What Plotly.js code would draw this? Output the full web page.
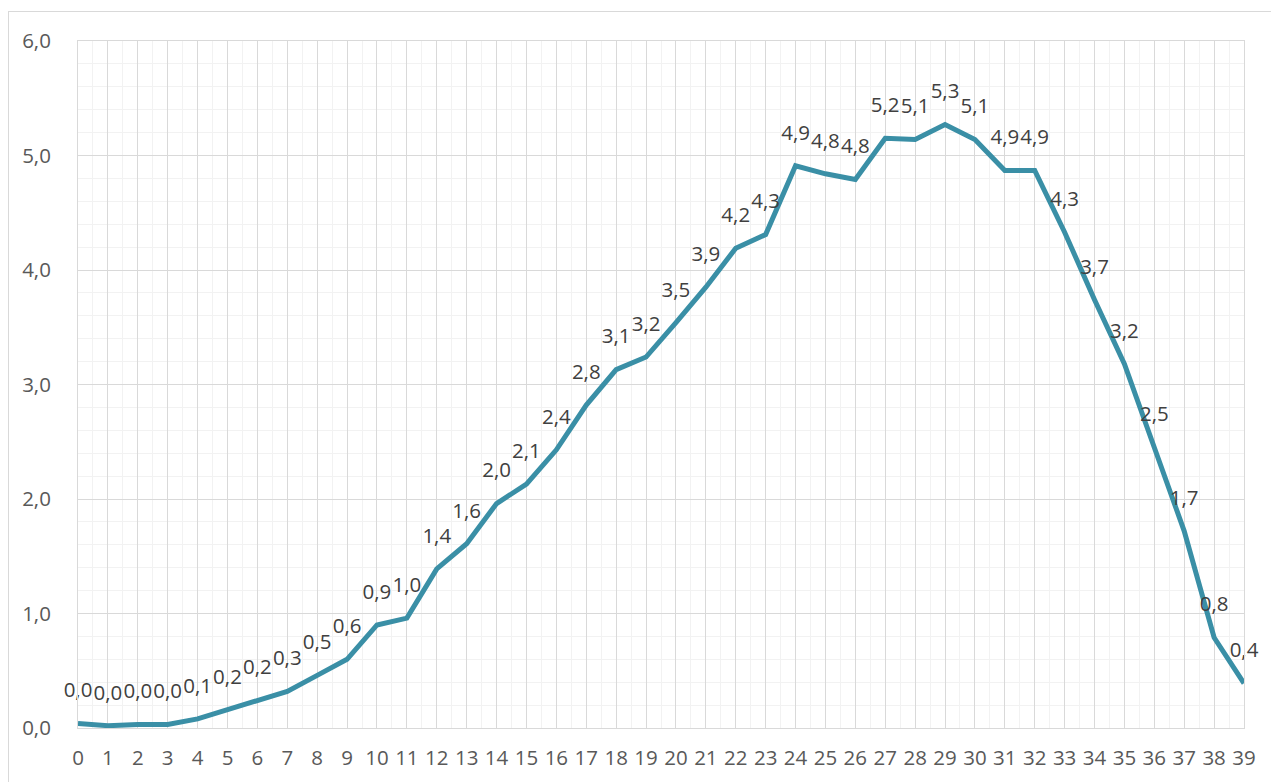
<!DOCTYPE html>
<html>
<head>
<meta charset="utf-8">
<script src="https://cdn.plot.ly/plotly-3.0.1.min.js"></script>
<style>
  html, body { margin: 0; padding: 0; background: #ffffff; overflow: hidden; }
  #frame { position: absolute; left: 8px; top: 11px; width: 1300px; height: 800px; border: 1px solid #d9d9d9; }
  #chart { position: absolute; left: 0; top: 0; width: 1271px; height: 782px; }
</style>
</head>
<body>
<div id="frame"></div>
<div id="chart"></div>
<script>
const categories = [0,1,2,3,4,5,6,7,8,9,10,11,12,13,14,15,16,17,18,19,20,21,22,23,24,25,26,27,28,29,30,31,32,33,34,35,36,37,38,39];
const values = [0.04,0.02,0.03,0.03,0.08,0.16,0.24,0.32,0.46,0.60,0.90,0.96,1.39,1.61,1.96,2.13,2.43,2.82,3.13,3.24,3.54,3.85,4.19,4.31,4.91,4.84,4.79,5.15,5.14,5.27,5.14,4.87,4.87,4.33,3.74,3.18,2.45,1.72,0.79,0.39];
const yTickVals = [0,1,2,3,4,5,6];

const labels = values.map(v => v.toFixed(1).replace('.', ','));

const trace = {
  x: categories,
  y: values,
  type: 'scatter',
  mode: 'lines+markers+text',
  line: { color: '#3a8fa6', width: 5 },
  marker: { size: 32, color: 'rgba(0,0,0,0)' },
  text: labels,
  textposition: 'top center',
  textfont: { family: 'Open Sans, sans-serif', size: 20.5, color: '#404040' },
  hoverinfo: 'x+y',
  cliponaxis: false
};

const layout = {
  width: 1271,
  height: 782,
  margin: { l: 78, r: 27, t: 41, b: 54 },
  paper_bgcolor: 'rgba(0,0,0,0)',
  plot_bgcolor: '#ffffff',
  separators: ', ',
  showlegend: false,
  font: { family: 'Open Sans, sans-serif', color: '#595959', size: 20.5 },
  xaxis: {
    range: [0, 39],
    tickmode: 'array',
    tickvals: categories,
    ticktext: categories.map(String),
    showgrid: true,
    gridcolor: '#d9d9d9',
    gridwidth: 1,
    minor: { dtick: 0.5, showgrid: true, gridcolor: '#f2f2f2', gridwidth: 1 },
    showline: true,
    linecolor: '#d9d9d9',
    linewidth: 1,
    mirror: true,
    zeroline: false,
    ticks: '',
    ticklabelstandoff: 11,
    tickfont: { family: 'Open Sans, sans-serif', size: 20.5, color: '#595959' }
  },
  yaxis: {
    range: [0, 6],
    tickmode: 'array',
    tickvals: yTickVals,
    ticktext: yTickVals.map(v => v.toFixed(1).replace('.', ',')),
    showgrid: true,
    gridcolor: '#d9d9d9',
    gridwidth: 1,
    minor: { dtick: 0.2, showgrid: true, gridcolor: '#f2f2f2', gridwidth: 1 },
    showline: true,
    linecolor: '#d9d9d9',
    linewidth: 1,
    mirror: true,
    zeroline: false,
    ticks: '',
    ticklabelstandoff: 22,
    tickfont: { family: 'Open Sans, sans-serif', size: 20.5, color: '#595959' }
  }
};

Plotly.newPlot('chart', [trace], layout, { displayModeBar: false, staticPlot: true });
</script>
</body>
</html>
